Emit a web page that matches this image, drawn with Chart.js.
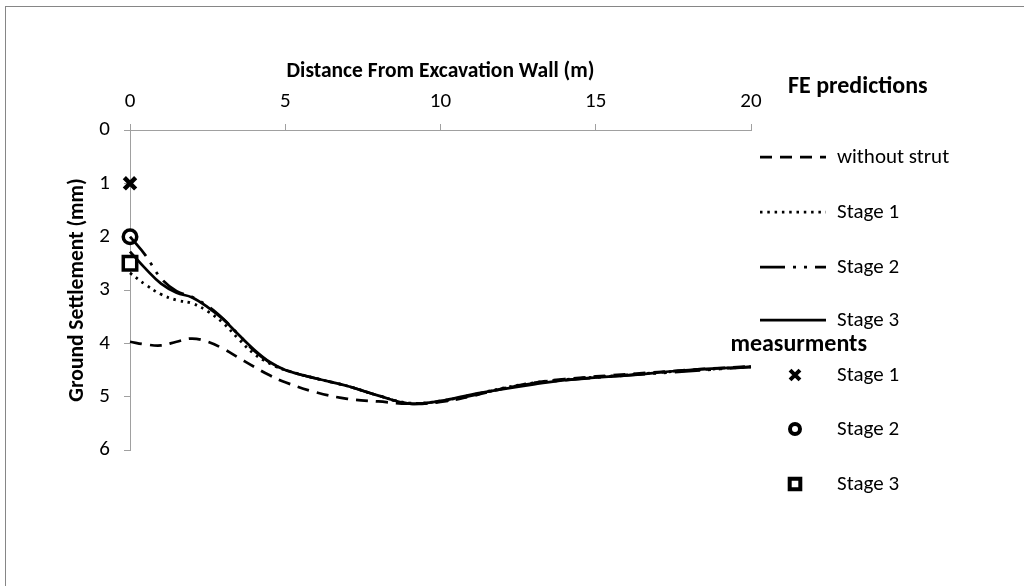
<!DOCTYPE html>
<html>
<head>
<meta charset="utf-8">
<script src="https://cdn.jsdelivr.net/npm/chart.js@4.4.1/dist/chart.umd.min.js"></script>
<style>
  html, body { margin: 0; padding: 0; background: #fff; overflow: hidden; }
  #frame { position: absolute; left: 5px; top: 6px; width: 1100px; height: 700px;
           border-top: 1px solid #868686; border-left: 1px solid #868686; }
  #wrap { position: absolute; left: 0; top: 0; width: 1024px; height: 586px; }
</style>
</head>
<body>
<div id="frame"></div>
<div id="wrap"><canvas id="chart" width="1024" height="586"></canvas></div>
<script>
const FONT = "Carlito, Calibri, Lato, sans-serif";

// FE predictions, settlement (mm) vs distance from wall (m)
const distance = [0, 0.5, 1, 1.5, 2, 2.5, 3, 3.5, 4, 4.5, 5, 6, 7, 8, 9, 10, 11, 12, 13, 14, 16, 18, 20];
const withoutStrut = [3.97, 4.02, 4.04, 3.97, 3.91, 3.97, 4.1, 4.27, 4.44, 4.6, 4.73, 4.92, 5.04, 5.09, 5.13, 5.1, 4.99, 4.85, 4.74, 4.67, 4.58, 4.5, 4.43];
const feStage1 = [2.68, 2.9, 3.08, 3.19, 3.25, 3.4, 3.62, 3.92, 4.2, 4.38, 4.5, 4.66, 4.8, 4.98, 5.12, 5.08, 4.97, 4.84, 4.74, 4.68, 4.59, 4.51, 4.44];
const feStage2 = [2.0, 2.35, 2.78, 3.02, 3.13, 3.3, 3.54, 3.84, 4.14, 4.36, 4.5, 4.66, 4.8, 4.98, 5.13, 5.09, 4.98, 4.85, 4.75, 4.69, 4.6, 4.52, 4.44];
const feStage3 = [2.28, 2.6, 2.88, 3.05, 3.14, 3.32, 3.55, 3.84, 4.12, 4.35, 4.5, 4.66, 4.8, 4.98, 5.13, 5.08, 4.96, 4.86, 4.77, 4.69, 4.6, 4.5, 4.44];

// measurements
const measDist = [0];
const measStage1 = [1];
const measStage2 = [2];
const measStage3 = [2.5];

const xTicks = [0, 5, 10, 15, 20];
const yTicks = [0, 1, 2, 3, 4, 5, 6];

function pts(xs, ys) {
  return xs.map((x, i) => ({ x, y: ys[i] }));
}

function lineSet(label, values, dash) {
  return {
    type: "line", label, data: pts(distance, values),
    borderColor: "#000", borderWidth: 2.75, borderDash: dash,
    pointRadius: 0, tension: 0.4, fill: false, clip: false, group: "fe",
  };
}

function pointSet(label, values, style, radius, bw, legendRadius) {
  return {
    type: "scatter", label, data: pts(measDist, values),
    pointStyle: style, pointRadius: radius, pointBorderWidth: bw,
    borderColor: "#000", backgroundColor: "#fff", clip: false, group: "meas",
    legendRadius,
  };
}

const datasets = [
  lineSet("without strut", withoutStrut, [12, 8]),
  lineSet("Stage 1", feStage1, [2.5, 4.8]),
  lineSet("Stage 2", feStage2, [25, 8, 3, 8, 3, 8]),
  lineSet("Stage 3", feStage3, []),
  pointSet("Stage 1", measStage1, "crossRot", 8, 4.5, 7),
  pointSet("Stage 2", measStage2, "circle", 6.75, 3.5, 5),
  pointSet("Stage 3", measStage3, "rect", 9.5, 3.5, 7.5),
];

const sideLegend = {
  id: "sideLegend",
  afterDraw(chart) {
    const ctx = chart.ctx;
    ctx.save();
    ctx.fillStyle = "#000";
    ctx.strokeStyle = "#000";
    ctx.textBaseline = "middle";
    ctx.textAlign = "left";
    ctx.font = "bold 24px " + FONT;
    ctx.fillText("FE predictions", 788, 87);
    ctx.textAlign = "right";
    ctx.fillText("measurments", 867, 345);
    ctx.textAlign = "left";
    ctx.font = "21px " + FONT;
    const feRows = [157, 212, 267, 320];
    const measRows = [375, 429, 484];
    let fi = 0, mi = 0;
    chart.data.datasets.forEach((ds) => {
      if (ds.group === "fe") {
        const y = feRows[fi++];
        ctx.lineWidth = ds.borderWidth;
        ctx.setLineDash(ds.borderDash);
        ctx.beginPath();
        ctx.moveTo(760, y);
        ctx.lineTo(826, y);
        ctx.stroke();
        ctx.setLineDash([]);
        ctx.fillText(ds.label, 837, y + 1);
      } else {
        const y = measRows[mi++];
        ctx.lineWidth = 4;
        ctx.fillStyle = "#fff";
        Chart.helpers.drawPoint(ctx, {
          pointStyle: ds.pointStyle, rotation: 0,
          radius: ds.legendRadius, borderWidth: 4,
        }, 795, y);
        ctx.fillStyle = "#000";
        ctx.fillText(ds.label, 837, y + 1);
      }
    });
    ctx.restore();
  },
};

const axisGrey = "#a0a0a0";

new Chart(document.getElementById("chart"), {
  data: { datasets },
  options: {
    responsive: false,
    animation: false,
    events: [],
    layout: { padding: { left: 0, right: 273, top: 50, bottom: 136 } },
    plugins: { legend: { display: false }, tooltip: { enabled: false } },
    scales: {
      x: {
        type: "linear", position: "top", min: 0, max: 20,
        afterBuildTicks: (s) => { s.ticks = xTicks.map((v) => ({ value: v })); },
        ticks: { color: "#000", font: { family: FONT, size: 21 }, padding: 10 },
        grid: { drawOnChartArea: false, tickLength: 6, color: axisGrey },
        border: { color: axisGrey },
        title: {
          display: true, text: "Distance From Excavation Wall (m)", color: "#000",
          font: { family: FONT, size: 21.5, weight: "bold" }, padding: { top: 9, bottom: 0 },
        },
        afterFit: (s) => { s.height = 80; },
      },
      y: {
        type: "linear", reverse: true, min: 0, max: 6,
        afterBuildTicks: (s) => { s.ticks = yTicks.map((v) => ({ value: v })); },
        ticks: { color: "#000", font: { family: FONT, size: 21 }, padding: 14 },
        grid: { drawOnChartArea: false, tickLength: 6, color: axisGrey },
        border: { color: axisGrey },
        title: {
          display: true, text: "Ground Settlement (mm)", color: "#000",
          font: { family: FONT, size: 21.5, weight: "bold" }, padding: { top: 65, bottom: 0 },
        },
        afterFit: (s) => { s.width = 130; },
      },
    },
  },
  plugins: [sideLegend],
});
</script>
</body>
</html>
